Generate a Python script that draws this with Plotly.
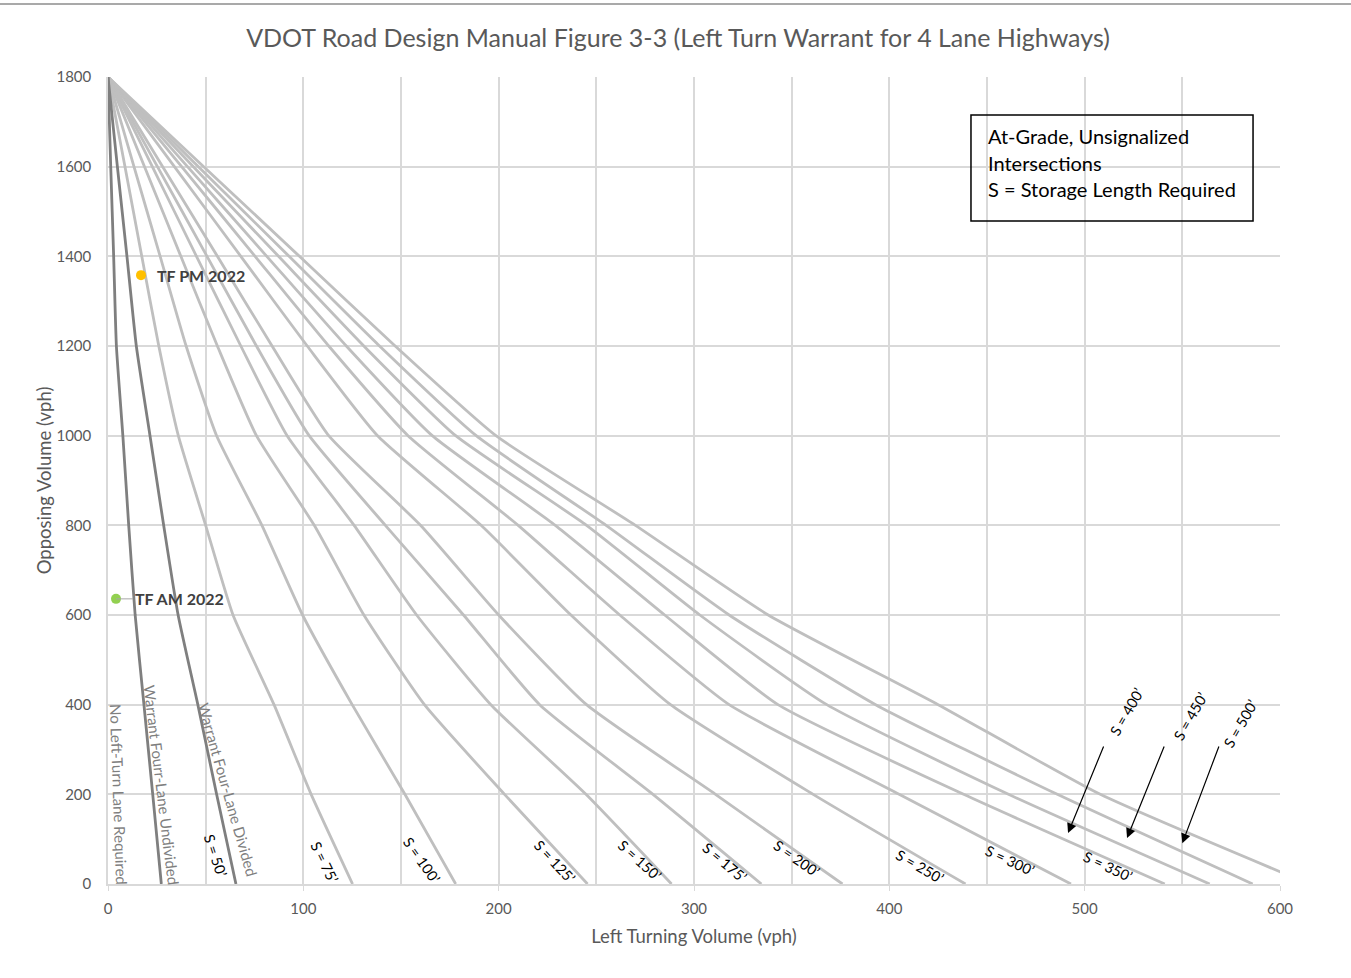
import plotly.graph_objects as go

# ---------------- data ----------------
y_levels = [1800, 1600, 1400, 1200, 1000, 800, 600, 400, 200, 0]

x_undivided = [0, 1.4, 2.9, 4.3, 7.6, 10.6, 13.9, 18.4, 22.9, 27.3]
x_divided   = [0, 4.8, 9.7, 14.5, 21.5, 28.5, 35.9, 46, 55.6, 65.5]
x_s75  = [0, 8.7, 17.3, 26, 36, 50, 64, 85, 104, 125.2]
x_s100 = [0, 13.3, 26.7, 40, 55.6, 78.8, 99.6, 125, 152, 178]
x_s125 = [0, 18.7, 37.3, 56, 76, 105.6, 131, 162, 203, 245.5]
x_s150 = [0, 22.7, 45.3, 68, 91.7, 126, 158, 196, 244.7, 288.5]
x_s175 = [0, 25.3, 50.7, 76, 103, 142, 182, 221, 279, 334.5]
x_s200 = [0, 28, 56, 84, 113, 160, 200, 245, 311, 376]
x_s250 = [0, 34, 68, 102, 138, 191, 237, 288, 361, 439]
x_s300 = [0, 37.7, 75.3, 113, 153.6, 210, 262, 318, 405, 493]
x_s350 = [0, 40.7, 81.3, 122, 166, 229, 285, 343, 438, 541]
x_s400 = [0, 43.7, 87.3, 131, 178, 245, 303, 368, 461, 564]
x_s450 = [0, 46.3, 92.7, 139, 188.5, 255, 318, 393, 486, 586]
x_s500 = [0, 49, 98, 147, 198.6, 270, 338, 425, 508, 615]

pm_x, pm_y = [16.9], [1358]
am_x, am_y = [4.1], [636]

x_ticks = [0, 100, 200, 300, 400, 500, 600]
y_ticks = [0, 200, 400, 600, 800, 1000, 1200, 1400, 1600, 1800]

# label positions (data units)
s_labels = ["S = 50’", "S = 75’", "S = 100’", "S = 125’", "S = 150’", "S = 175’",
            "S = 200’", "S = 250’", "S = 300’", "S = 350’"]
s_label_x = [54.8, 111, 160.8, 228.8, 272.4, 315.9, 352.7, 415.7, 461.8, 512]
s_label_y = [62.5, 49, 53.5, 51, 53.5, 49, 58, 40, 53.5, 40]
s_label_ang = [72, 64, 55, 47, 42, 40, 35, 30, 25, 25]

arrow_labels = ["S = 400’", "S = 450’", "S = 500’"]
arrow_label_x = [521.7, 554, 580]
arrow_label_y = [383.7, 374.7, 357]
arrow_tail_x = [510, 541, 569]
arrow_tail_y = [310, 310, 310]
arrow_tip_x = [491.5, 521.7, 550]
arrow_tip_y = [113.8, 102.6, 91]

LIGHT = "#BFBFBF"
DARK = "#7F7F7F"
FONT = "Lato"
TXT = "#595959"

curves = [
    ("Warrant Four-Lane Undivided", x_undivided, DARK),
    ("Warrant Four-Lane Divided / S = 50'", x_divided, DARK),
    ("S = 75'", x_s75, LIGHT), ("S = 100'", x_s100, LIGHT), ("S = 125'", x_s125, LIGHT),
    ("S = 150'", x_s150, LIGHT), ("S = 175'", x_s175, LIGHT), ("S = 200'", x_s200, LIGHT),
    ("S = 250'", x_s250, LIGHT), ("S = 300'", x_s300, LIGHT), ("S = 350'", x_s350, LIGHT),
    ("S = 400'", x_s400, LIGHT), ("S = 450'", x_s450, LIGHT), ("S = 500'", x_s500, LIGHT),
]

fig = go.Figure()
for name, xs, col in curves[2:] + curves[:2]:
    fig.add_trace(go.Scatter(x=xs, y=y_levels, mode="lines", name=name,
                             line=dict(color=col, width=2.8, shape="spline", smoothing=0.5),
                             hoverinfo="x+y+name"))

fig.add_trace(go.Scatter(x=pm_x, y=pm_y, mode="markers", name="TF PM 2022",
                         marker=dict(color="#FFC000", size=10)))
fig.add_trace(go.Scatter(x=am_x, y=am_y, mode="markers", name="TF AM 2022",
                         marker=dict(color="#92D050", size=10)))

ann = []
# point labels
ann.append(dict(x=pm_x[0], y=pm_y[0], xref="x", yref="y", text="<b>TF PM 2022</b>",
                showarrow=False, xanchor="left", xshift=14,
                font=dict(family=FONT, size=16, color="#404040")))
ann.append(dict(x=am_x[0], y=am_y[0], xref="x", yref="y", text="<b>TF AM 2022</b>",
                showarrow=True, arrowhead=0, arrowwidth=1, arrowcolor="#A6A6A6",
                ax=63, ay=0, standoff=0,
                font=dict(family=FONT, size=16, color="#404040")))

# curve labels (gray)
ann.append(dict(x=5.6, y=198.5, text="No Left-Turn Lane Required", textangle=88,
                showarrow=False, font=dict(family=FONT, size=15, color=DARK)))
ann.append(dict(x=27.5, y=221, text="Warrant Fourr-Lane Undivided", textangle=83,
                showarrow=False, font=dict(family=FONT, size=15, color=DARK)))
ann.append(dict(x=61.5, y=210, text="Warrant Four-Lane Divided", textangle=74,
                showarrow=False, font=dict(family=FONT, size=15, color=DARK)))

for t, x, y, a in zip(s_labels, s_label_x, s_label_y, s_label_ang):
    ann.append(dict(x=x, y=y, text=t, textangle=a, showarrow=False,
                    font=dict(family=FONT, size=14.5, color="#000000")))

for t, lx, ly, tx, ty, hx, hy in zip(arrow_labels, arrow_label_x, arrow_label_y,
                                     arrow_tail_x, arrow_tail_y, arrow_tip_x, arrow_tip_y):
    ann.append(dict(x=lx, y=ly, text=t, textangle=-60, showarrow=False,
                    font=dict(family=FONT, size=14.5, color="#000000")))
    ann.append(dict(x=hx, y=hy, ax=tx, ay=ty, axref="x", ayref="y", xref="x", yref="y",
                    text="", showarrow=True, arrowhead=2, arrowsize=1.6, arrowwidth=1.2,
                    arrowcolor="#000000", standoff=0))

# info box text
box_lines = ["At-Grade, Unsignalized", "Intersections", "S = Storage Length Required"]
for i, t in enumerate(box_lines):
    ann.append(dict(x=449.5, y=1668 - i * 59, xanchor="left", yanchor="middle", text=t,
                    showarrow=False, font=dict(family=FONT, size=20, color="#000000")))

shapes = [
    dict(type="rect", xref="x", yref="y", x0=441.8, x1=586.2, y0=1479, y1=1715,
         line=dict(color="#000000", width=1.5), fillcolor="rgba(0,0,0,0)"),
    dict(type="line", xref="paper", yref="paper", x0=-108 / 1172, x1=1 + 71 / 1172,
         y0=1 + 73 / 807, y1=1 + 73 / 807, line=dict(color="#8C8C8C", width=1.5)),
]

fig.update_layout(
    width=1351, height=978, autosize=False,
    margin=dict(l=108, r=71, t=77, b=94),
    paper_bgcolor="white", plot_bgcolor="white",
    showlegend=False,
    title=dict(text="VDOT Road Design Manual Figure 3-3 (Left Turn Warrant for 4 Lane Highways)",
               x=678 / 1351, xref="container", xanchor="center", y=1 - 38 / 978, yanchor="middle",
               font=dict(family=FONT, size=25, color=TXT)),
    annotations=ann, shapes=shapes,
    font=dict(family=FONT, color=TXT),
)
fig.update_xaxes(range=[0, 600], tickvals=x_ticks, showgrid=True, gridcolor="#D9D9D9",
                 gridwidth=1.5, zeroline=False, showline=True, linecolor="#D9D9D9", linewidth=1.5,
                 ticks="outside", ticklen=5, tickcolor="#D9D9D9", ticklabelstandoff=5,
                 minor=dict(dtick=50, tick0=0, showgrid=True, gridcolor="#D9D9D9", gridwidth=1.5),
                 tickfont=dict(family=FONT, size=15, color=TXT),
                 title=dict(text="Left Turning Volume (vph)", font=dict(family=FONT, size=18.5, color=TXT),
                            standoff=14))
fig.update_yaxes(range=[0, 1800], tickvals=y_ticks, showgrid=True, gridcolor="#D9D9D9",
                 gridwidth=1.5, zeroline=False, showline=True, linecolor="#D9D9D9", linewidth=1.5,
                 tickfont=dict(family=FONT, size=15, color=TXT), ticks="", ticklabelstandoff=12,
                 title=dict(text="Opposing Volume (vph)", font=dict(family=FONT, size=18.5, color=TXT),
                            standoff=0))

fig.write_html("out.html", config={"displayModeBar": False},
               post_script="document.body.style.margin='0px';")
